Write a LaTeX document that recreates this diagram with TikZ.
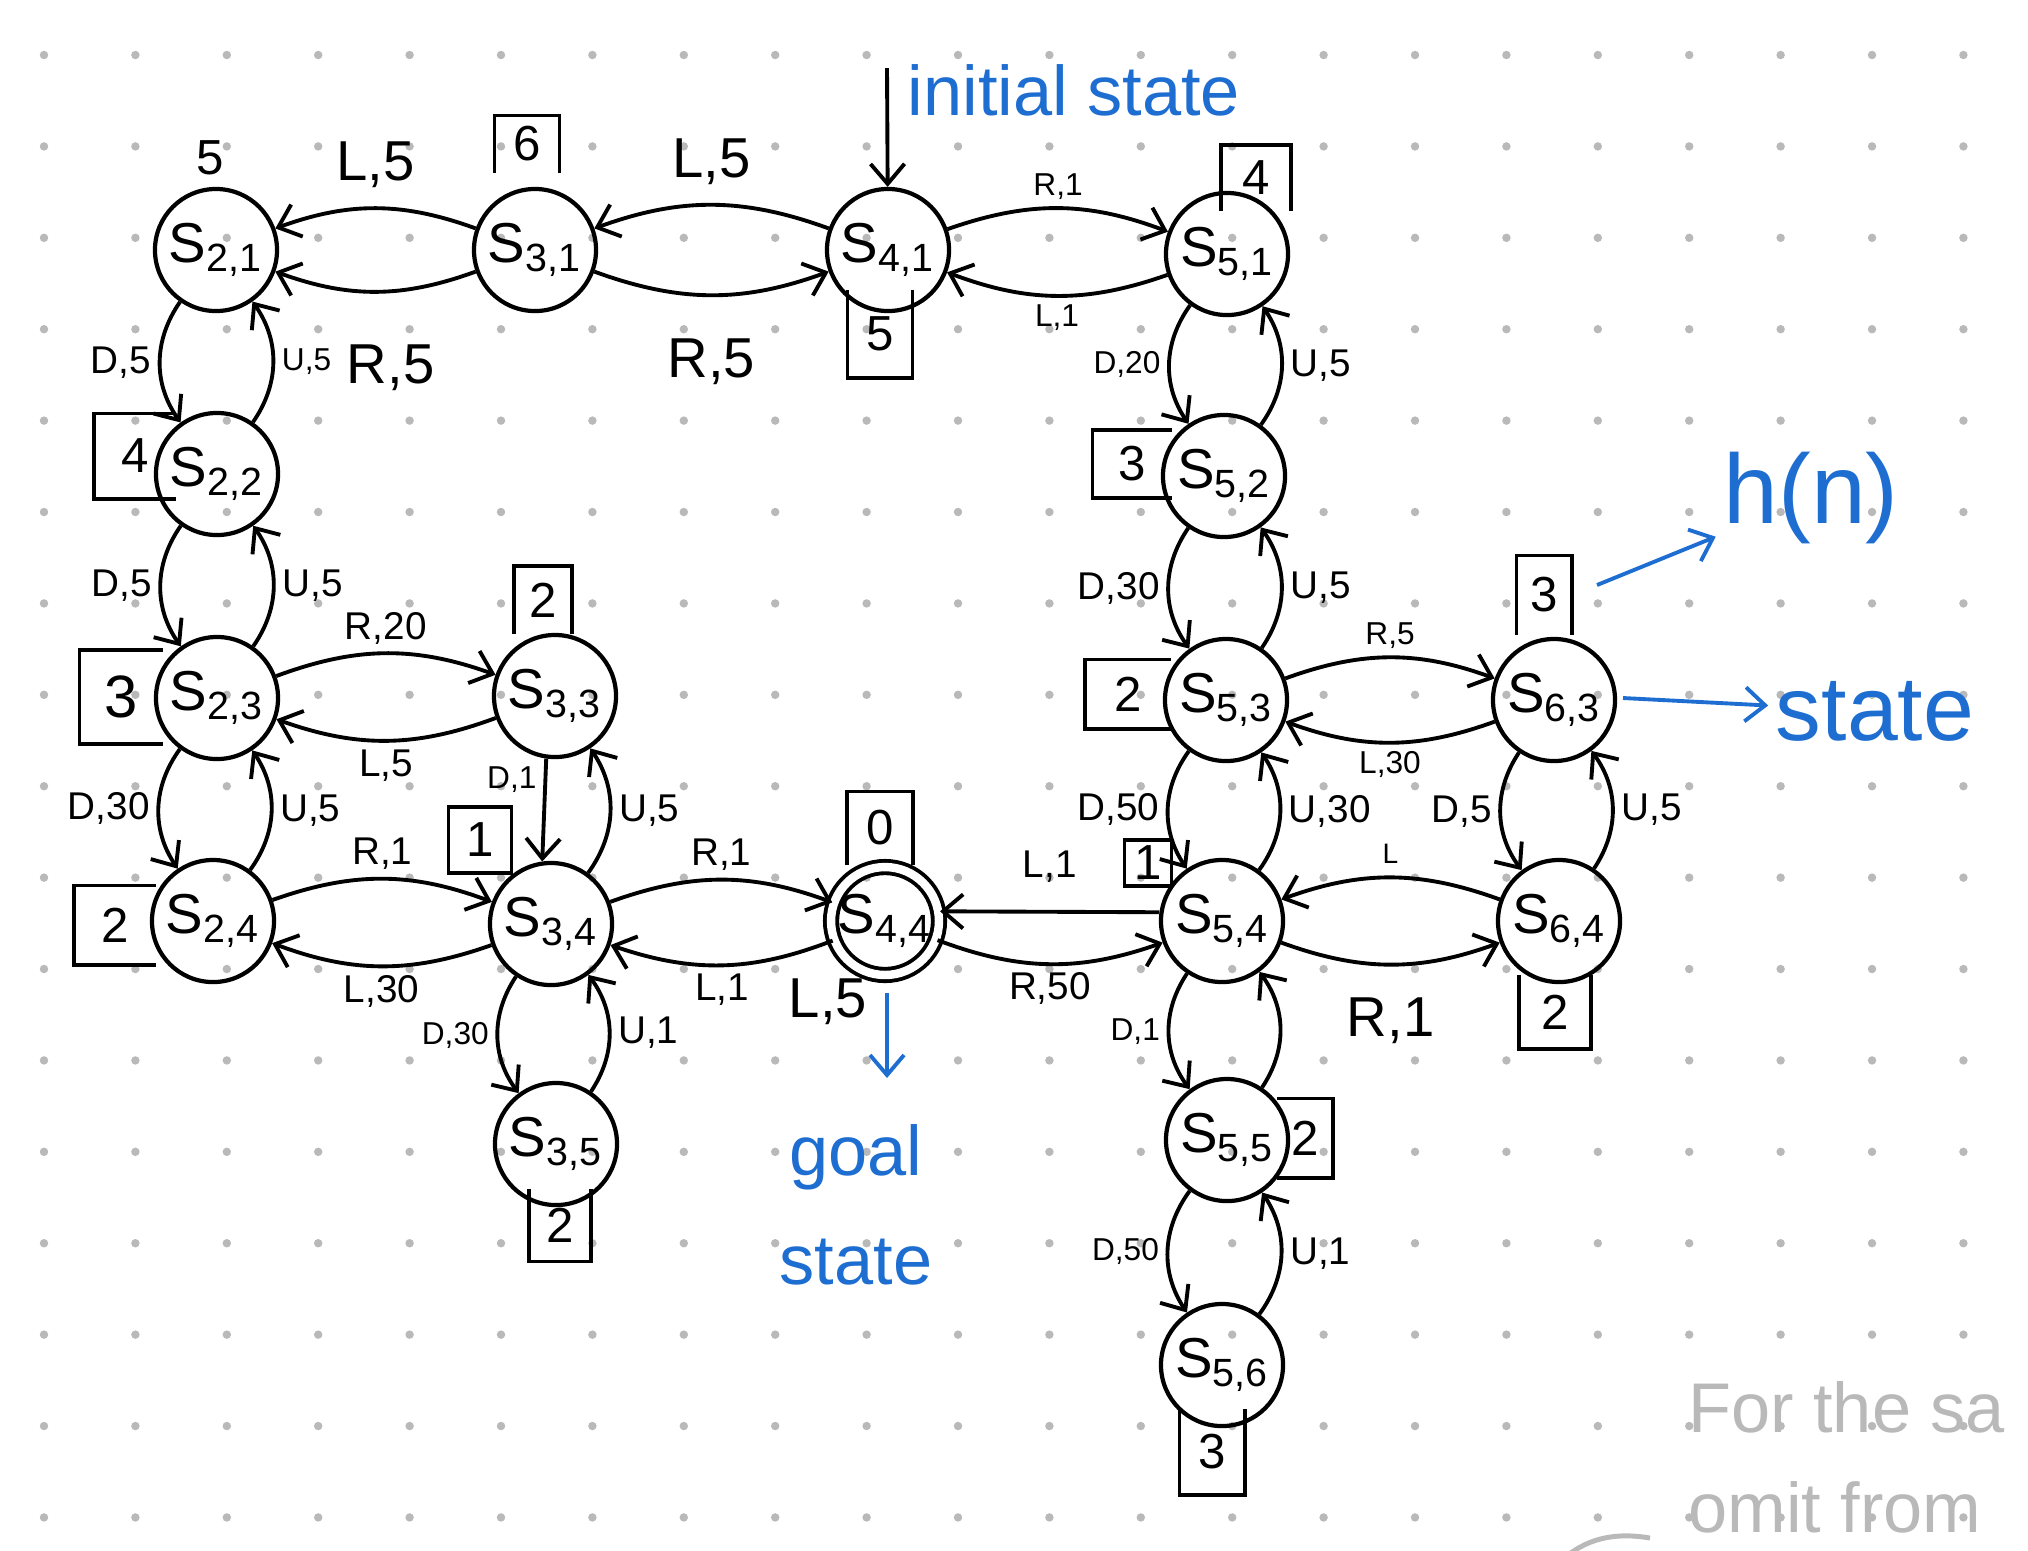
\documentclass[tikz,border=0pt]{standalone}
\usepackage{fontspec}
\setmainfont{Liberation Sans}
\usetikzlibrary{arrows.meta}
\definecolor{penblue}{RGB}{30,110,210}

\begin{document}
\begin{tikzpicture}[x=0.01cm, y=-0.01cm,
    state/.style={circle, draw, line width=1.2pt, minimum size=1.22cm, inner sep=0pt, font=\fontsize{16}{18}\selectfont},
    goal/.style={state, double, line width=1.1pt, double distance=2.4pt, minimum size=1.0cm},
    hval/.style={inner sep=0pt, minimum width=0.64cm, minimum height=0.7cm, font=\fontsize{14}{16}\selectfont},
    hline/.style={line width=1pt},
    move/.style={-{Straight Barb[length=2mm, width=3.4mm]}, line width=1.1pt},
    lbig/.style={font=\fontsize{16}{18}\selectfont},
    lmid/.style={font=\fontsize{11}{13}\selectfont, inner sep=2pt},
    lsmall/.style={font=\fontsize{9}{11}\selectfont, inner sep=2pt},
    note/.style={text=penblue, inner sep=2pt}]

   % page and dotted paper
   \useasboundingbox[fill=white] (0,0) rectangle (2028,1550);
   \foreach \i in {0,...,21}
     \foreach \j in {0,...,16}
       \fill[gray!55] (44+91.4*\i, 55+91.4*\j) circle (1.2pt);

   % states
   \node[state] (S21) at (216,250) {S\textsubscript{2,1}};
   \node[state] (S31) at (535,250) {S\textsubscript{3,1}};
   \node[state] (S41) at (888,250) {S\textsubscript{4,1}};
   \node[state] (S51) at (1227,254) {S\textsubscript{5,1}};
   \node[state] (S22) at (217,474) {S\textsubscript{2,2}};
   \node[state] (S52) at (1224,476) {S\textsubscript{5,2}};
   \node[state] (S23) at (217,698) {S\textsubscript{2,3}};
   \node[state] (S33) at (555,696) {S\textsubscript{3,3}};
   \node[state] (S53) at (1226,700) {S\textsubscript{5,3}};
   \node[state] (S63) at (1554,700) {S\textsubscript{6,3}};
   \node[state] (S24) at (213,921) {S\textsubscript{2,4}};
   \node[state] (S34) at (551,924) {S\textsubscript{3,4}};
   \node[goal]  (S44) at (885,921) {S\textsubscript{4,4}};
   \node[state] (S54) at (1222,921) {S\textsubscript{5,4}};
   \node[state] (S64) at (1559,921) {S\textsubscript{6,4}};
   \node[state] (S35) at (556,1144) {S\textsubscript{3,5}};
   \node[state] (S55) at (1227,1140) {S\textsubscript{5,5}};
   \node[state] (S56) at (1222,1365) {S\textsubscript{5,6}};

   % heuristic values
   \node[hval] (h21) at (210,158) {5};
   \node[hval, minimum height=0.56cm] (h31) at (527,144) {6};
   \draw[hline] (h31.south west) |- (h31.north east) -- (h31.south east);
   \node[hval, minimum height=0.87cm] (h41) at (880,334) {5};
   \draw[hline] (h41.north west) |- (h41.south east) -- (h41.north east);
   \node[hval, minimum width=0.69cm, minimum height=0.65cm] (h51) at (1256,178) {4};
   \draw[hline] (h51.south west) |- (h51.north east) -- (h51.south east);
   \node[hval, minimum width=0.81cm, minimum height=0.84cm] (h22) at (135,456) {4};
   \draw[hline] (h22.north east) -| (h22.south west) -- (h22.south east);
   \node[hval, minimum width=0.78cm, minimum height=0.67cm] (h52) at (1132,464) {3};
   \draw[hline] (h52.north east) -| (h52.south west) -- (h52.south east);
   \node[hval, minimum width=0.82cm, minimum height=0.93cm, font=\fontsize{17}{19}\selectfont] (h23) at (121,697) {3};
   \draw[hline] (h23.north east) -| (h23.south west) -- (h23.south east);
   \node[hval, minimum width=0.57cm, minimum height=0.67cm] (h33) at (543,600) {2};
   \draw[hline] (h33.south west) |- (h33.north east) -- (h33.south east);
   \node[hval, minimum width=0.85cm, minimum height=0.68cm] (h53) at (1128,694) {2};
   \draw[hline] (h53.north east) -| (h53.south west) -- (h53.south east);
   \node[hval, minimum width=0.54cm, minimum height=0.78cm] (h63) at (1544,595) {3};
   \draw[hline] (h63.south west) |- (h63.north east) -- (h63.south east);
   \node[hval, minimum width=0.81cm, minimum height=0.78cm] (h24) at (115,925) {2};
   \draw[hline] (h24.north east) -| (h24.south west) -- (h24.south east);
   \node[hval, minimum width=0.62cm, minimum height=0.65cm] (h34) at (480,840) {1};
   \draw[hline] (h34.south west) rectangle (h34.north east);
   \node[hval, minimum width=0.65cm, minimum height=0.72cm] (h44) at (880,828) {0};
   \draw[hline] (h44.south west) |- (h44.north east) -- (h44.south east);
   \node[hval, minimum width=0.46cm, minimum height=0.45cm] (h54) at (1148,863) {1};
   \draw[hline] (h54.south west) rectangle (h54.north east);
   \node[hval, minimum width=0.71cm, minimum height=0.72cm] (h64) at (1555,1012) {2};
   \draw[hline] (h64.north west) |- (h64.south east) -- (h64.north east);
   \node[hval, minimum width=0.61cm, minimum height=0.71cm] (h35) at (560,1225) {2};
   \draw[hline] (h35.north west) |- (h35.south east) -- (h35.north east);
   \node[hval, minimum width=0.54cm, minimum height=0.78cm] (h55) at (1305,1138) {2};
   \draw[hline] (h55.north west) -| (h55.south east) -- (h55.south west);
   \node[hval, minimum width=0.64cm, minimum height=0.84cm] (h56) at (1212,1452) {3};
   \draw[hline] (h56.north west) |- (h56.south east) -- (h56.north east);

   % top row
   \draw[move] (S31) to[bend right=20] node[above=2pt, lbig]{L,5} (S21);
   \draw[move] (S31) to[bend left=20] node[pos=0.42, below=4mm, lbig]{R,5} (S21);
   \draw[move] (S41) to[bend right=20] node[above=2pt, lbig]{L,5} (S31);
   \draw[move] (S31) to[bend right=20] node[below=3mm, lbig]{R,5} (S41);
   \draw[move] (S41) to[bend left=20] node[above, lsmall]{R,1} (S51);
   \draw[move] (S51) to[bend left=20] node[below, lsmall]{L,1} (S41);

   % left column
   \draw[move] (S21) to[bend right=35] node[left, lmid]{D,5} (S22);
   \draw[move] (S22) to[bend right=35] node[right, lsmall]{U,5} (S21);
   \draw[move] (S22) to[bend right=35] node[left, lmid]{D,5} (S23);
   \draw[move] (S23) to[bend right=35] node[right, lmid]{U,5} (S22);
   \draw[move] (S23) to[bend right=35] node[left, lmid]{D,30} (S24);
   \draw[move] (S24) to[bend right=35] node[right, lmid]{U,5} (S23);

   % middle
   \draw[move] (S23) to[bend left=20] node[above, lmid]{R,20} (S33);
   \draw[move] (S33) to[bend left=20] node[below, lmid]{L,5} (S23);
   \draw[move] (S24) to[bend left=20] node[above, lmid]{R,1} (S34);
   \draw[move] (S34) to[bend left=20] node[below, lmid]{L,30} (S24);
   \draw[move] (S33.262) -- node[pos=0.2, left, lsmall]{D,1} (S34.98);
   \draw[move] (S34) to[bend right=35] node[right, lmid]{U,5} (S33);
   \draw[move] (S34) to[bend left=20] node[above, lmid]{R,1} (S44);
   \draw[move] (S44) to[bend left=20] node[below, lmid]{L,1} (S34);
   \draw[move] (S34) to[bend right=35] node[left, lsmall]{D,30} (S35);
   \draw[move] (S35) to[bend right=35] node[right, lmid]{U,1} (S34);
   \draw[move] (S54.172) -- node[above=2mm, lmid]{L,1} (S44.10);
   \draw[move] (S44) to[bend right=20] node[below, lmid]{R,50} (S54);
   \node[lbig] (l5) at (828,1002) {L,5};

   % right columns
   \draw[move] (S51) to[bend right=35] node[left, lsmall]{D,20} (S52);
   \draw[move] (S52) to[bend right=35] node[right, lmid]{U,5} (S51);
   \draw[move] (S52) to[bend right=35] node[left, lmid]{D,30} (S53);
   \draw[move] (S53) to[bend right=35] node[right, lmid]{U,5} (S52);
   \draw[move] (S53) to[bend left=20] node[above, lsmall]{R,5} (S63);
   \draw[move] (S63) to[bend left=20] node[below, lsmall]{L,30} (S53);
   \draw[move] (S53) to[bend right=35] node[left, lmid]{D,50} (S54);
   \draw[move] (S54) to[bend right=35] node[right, lmid]{U,30} (S53);
   \draw[move] (S63) to[bend right=35] node[left, lmid]{D,5} (S64);
   \draw[move] (S64) to[bend right=35] node[right, lmid]{U,5} (S63);
   \draw[move] (S64) to[bend right=20] node[above, font=\fontsize{8}{9}\selectfont]{L} (S54);
   \draw[move] (S54) to[bend right=20] node[below=2mm, lbig]{R,1} (S64);
   \draw[move] (S54) to[bend right=35] node[left, lsmall]{D,1} (S55);
   \draw[move] (S55) to[bend right=35] (S54);
   \draw[move] (S55) to[bend right=35] node[left, lsmall]{D,50} (S56);
   \draw[move] (S56) to[bend right=35] node[right, lmid]{U,1} (S55);

   % notes
   \coordinate (init) at (887,68);
   \draw[move] (init) -- (S41);
   \node[note, anchor=west, font=\fontsize{20}{24}\selectfont] (initlbl) at (900,90) {initial state};
   \coordinate (gfrom) at (887,993);
   \coordinate (gto) at (887,1078);
   \node[note, align=center, font=\fontsize{20}{31}\selectfont] (goallbl) at (856,1205) {goal\\state};
   \draw[move, penblue] (gfrom) -- (gto);
   \coordinate (hfrom) at (1597,585);
   \node[note, font=\fontsize{28}{32}\selectfont] (hn) at (1811,498) {h(n)};
   \draw[move, penblue] (hfrom) -- (hn);
   \coordinate (sfrom) at (1623,698);
   \node[note, font=\fontsize{26}{30}\selectfont] (statelbl) at (1875,711) {state};
   \draw[move, penblue] (sfrom) -- (statelbl);

   % faded text at the corner
   \node[anchor=west, text=gray!55, font=\fontsize{20}{24}\selectfont] (fade1) at (1676,1407) {For the sa};
   \node[anchor=west, text=gray!55, font=\fontsize{20}{24}\selectfont] (fade2) at (1676,1507) {omit from};
   \draw[gray!55, line width=1.4pt] (1560,1562) .. controls (1585,1538) and (1615,1532) .. (1650,1538);
\end{tikzpicture}
\end{document}
